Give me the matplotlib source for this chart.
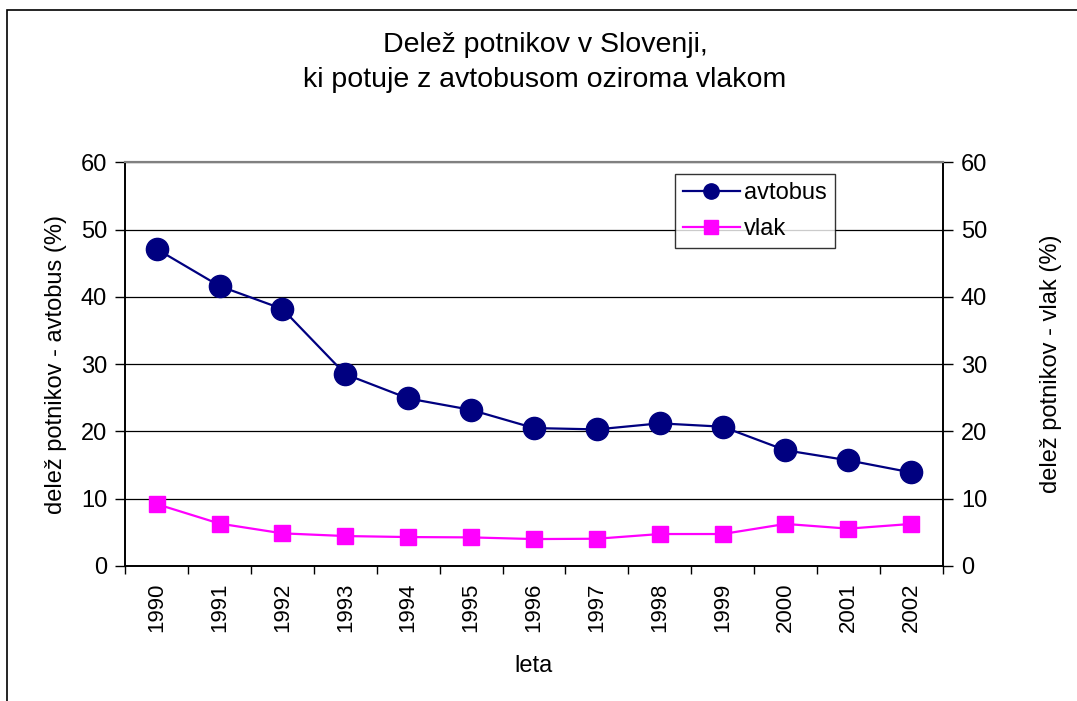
import matplotlib
matplotlib.use('Agg')
import matplotlib.pyplot as plt
from matplotlib.patches import Rectangle
import numpy as np

plt.rcParams['font.family'] = ['Liberation Sans', 'DejaVu Sans']

# Data
years = ['1990', '1991', '1992', '1993', '1994', '1995', '1996',
         '1997', '1998', '1999', '2000', '2001', '2002']
avtobus = [47.1, 41.6, 38.2, 28.5, 24.9, 23.2, 20.5, 20.3, 21.2, 20.7, 17.2, 15.7, 13.9]
vlak = [9.2, 6.3, 4.85, 4.45, 4.3, 4.25, 4.0, 4.05, 4.75, 4.75, 6.25, 5.55, 6.25]
yticks = [0, 10, 20, 30, 40, 50, 60]

fig = plt.figure(figsize=(10.77, 7.01), dpi=100)
ax = fig.add_axes([0.1163, 0.1926, 0.759, 0.5759])
ax2 = ax.twinx()

x = np.arange(len(years))

# Outer chart border
fig.patches.append(Rectangle((7 / 1077, -0.1), 1.2, 1 - 10 / 701 + 0.1,
                             transform=fig.transFigure, fill=False,
                             edgecolor='black', linewidth=1.2))

l1, = ax.plot(x, avtobus, color='#000080', linewidth=1.6, marker='o',
              markersize=16, markerfacecolor='#000080', markeredgecolor='#000080',
              label='avtobus', zorder=3)
l2, = ax2.plot(x, vlak, color='#FF00FF', linewidth=1.6, marker='s',
               markersize=11, markerfacecolor='#FF00FF', markeredgecolor='#FF00FF',
               label='vlak', zorder=3)

for a in (ax, ax2):
    a.set_ylim(0, 60)
    a.set_yticks(yticks)
    a.set_xlim(-0.5, len(years) - 0.5)

ax.yaxis.grid(True, color='black', linewidth=0.9)
ax.set_axisbelow(True)

# x ticks: marks between categories, labels centered
ax.set_xticks(x)
ax.set_xticklabels(years, rotation=90, fontsize=16)
ax.set_xticks(np.arange(-0.5, len(years)), minor=True)
ax.tick_params(axis='x', which='major', length=0, pad=12)
ax.tick_params(axis='x', which='minor', length=6, width=1, direction='out')
ax.tick_params(axis='y', labelsize=17, length=7, width=1, direction='out', pad=6)
ax2.tick_params(axis='y', labelsize=17, length=7, width=1, direction='out', pad=6)

for a in (ax, ax2):
    a.spines['top'].set_color('#808080')
    a.spines['top'].set_linewidth(1.5)
    for s in ('left', 'right', 'bottom'):
        a.spines[s].set_color('black')
        a.spines[s].set_linewidth(1.2)

ax.set_ylabel('delež potnikov - avtobus (%)', fontsize=17, labelpad=10)
ax2.set_ylabel('delež potnikov - vlak (%)', fontsize=17, labelpad=38)
ax.set_xlabel('leta', fontsize=17, labelpad=16)

fig.text(0.506, 0.911, 'Delež potnikov v Slovenji,\nki potuje z avtobusom oziroma vlakom',
         ha='center', va='center', fontsize=20.5, linespacing=1.45)

leg = ax2.legend(handles=[l1, l2], loc='upper left', bbox_to_anchor=(0.672, 0.972),
                 fontsize=17, frameon=True, fancybox=False, handlelength=2.4,
                 handletextpad=0.2, borderpad=0.35, labelspacing=0.6,
                 borderaxespad=0, markerscale=1.0)
leg.get_frame().set_edgecolor('black')
leg.get_frame().set_linewidth(1.0)
leg.legend_handles[0].set_markersize(11)
leg.legend_handles[1].set_markersize(10)

fig.savefig('out.png', dpi=100)
